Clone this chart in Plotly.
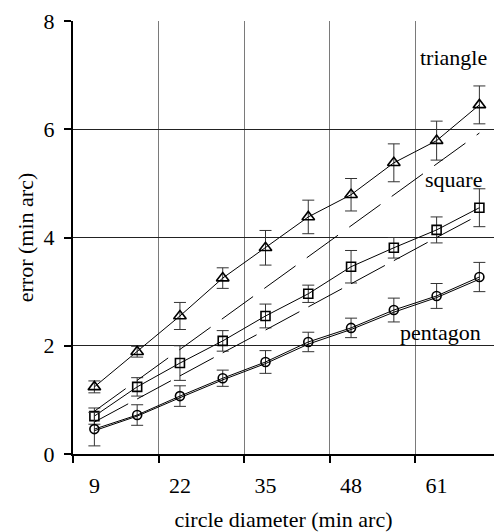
import plotly.graph_objects as go

# ---- data ----
diam = [9, 15.5, 22, 28.5, 35, 41.5, 48, 54.5, 61, 67.5]
tick_labels = ["9", "22", "35", "48", "61"]
tick_label_pos = [9, 22, 35, 48, 61]
grid_pos = [5.75, 18.75, 31.75, 44.75, 57.75]

tri = [1.24, 1.89, 2.55, 3.25, 3.81, 4.38, 4.79, 5.38, 5.79, 6.45]
tri_err = [0.11, 0.10, 0.25, 0.19, 0.32, 0.31, 0.30, 0.35, 0.36, 0.35]
tri_model = [0.79, 1.36, 1.93, 2.50, 3.07, 3.65, 4.22, 4.79, 5.36, 5.93]

sq = [0.70, 1.24, 1.68, 2.09, 2.55, 2.96, 3.46, 3.81, 4.14, 4.55]
sq_err = [0.15, 0.17, 0.32, 0.19, 0.22, 0.16, 0.30, 0.19, 0.24, 0.35]
sq_model = [0.59, 1.02, 1.44, 1.87, 2.29, 2.72, 3.14, 3.57, 4.00, 4.42]

pent = [0.46, 0.72, 1.07, 1.40, 1.70, 2.07, 2.33, 2.66, 2.92, 3.27]
pent_err = [0.31, 0.19, 0.19, 0.15, 0.21, 0.18, 0.18, 0.22, 0.23, 0.27]
pent_model = [0.43, 0.70, 1.04, 1.37, 1.67, 2.03, 2.30, 2.62, 2.89, 3.23]

labels = ["triangle", "square", "pentagon"]
label_x = [68.96, 68.2, 68.05]
label_y = [7.33, 5.08, 2.25]

FONT = "Liberation Serif"
fig = go.Figure()

# model lines
fig.add_trace(go.Scatter(x=diam, y=tri_model, mode="lines", xaxis="x2",
                         line=dict(color="black", width=1, dash="38.6px,13.8px"),
                         showlegend=False, hoverinfo="skip"))
fig.add_trace(go.Scatter(x=diam, y=sq_model, mode="lines", xaxis="x2",
                         line=dict(color="black", width=1, dash="38.4px,10.2px"),
                         showlegend=False, hoverinfo="skip"))
fig.add_trace(go.Scatter(x=diam, y=pent_model, mode="lines", xaxis="x2",
                         line=dict(color="black", width=1),
                         showlegend=False, hoverinfo="skip"))

def data_trace(y, err, sym, size):
    return go.Scatter(
        x=diam, y=y, mode="lines+markers",
        line=dict(color="black", width=1),
        marker=dict(symbol=sym, size=size, color="black",
                    line=dict(color="black", width=1.6)),
        error_y=dict(type="data", array=err, visible=True,
                     color="#333333", thickness=1, width=6),
        showlegend=False)

fig.add_trace(data_trace(tri, tri_err, "triangle-up-open", 11))
fig.add_trace(data_trace(sq, sq_err, "square-open", 9))
fig.add_trace(data_trace(pent, pent_err, "circle-open", 9))

for t, xx, yy in zip(labels, label_x, label_y):
    fig.add_annotation(x=xx, y=yy, text=t, showarrow=False, xanchor="right",
                       yanchor="middle", font=dict(family=FONT, size=22, color="black"))

xr = [5.75, 69.72]
fig.update_layout(
    width=494, height=532,
    margin=dict(l=73, r=0, t=21, b=78),
    plot_bgcolor="white", paper_bgcolor="white",
    font=dict(family=FONT, size=22, color="black"),
    xaxis=dict(range=xr, tickvals=grid_pos, showticklabels=False,
               ticks="outside", ticklen=7, tickwidth=2, tickcolor="black",
               showline=True, linecolor="black", linewidth=2, automargin=False,
               showgrid=True, gridcolor="#7a7a7a", gridwidth=1, zeroline=False),
    xaxis2=dict(range=xr, overlaying="x", anchor="y", side="bottom",
                tickvals=tick_label_pos, ticktext=tick_labels, automargin=False,
                ticks="", showline=False, showgrid=False, zeroline=False,
                ticklabelstandoff=16,
                tickfont=dict(family=FONT, size=22, color="black"),
                title=dict(text="circle diameter (min arc)", standoff=16,
                           font=dict(family=FONT, size=22, color="black"))),
    yaxis=dict(range=[0, 8], tickvals=[0, 2, 4, 6, 8], ticktext=["0", "2", "4", "6", "8"],
               ticks="outside", ticklen=7, tickwidth=2, tickcolor="black",
               showline=True, linecolor="black", linewidth=2, automargin=True,
               showgrid=True, gridcolor="#222222", gridwidth=1, zeroline=False,
               ticklabelstandoff=5,
               tickfont=dict(family=FONT, size=22, color="black"),
               title=dict(text="error (min arc)", standoff=4,
                          font=dict(family=FONT, size=22, color="black"))),
)

fig.write_html("out.html", config={"displayModeBar": False},
               post_script="document.body.style.margin='0';document.body.style.padding='0';")
